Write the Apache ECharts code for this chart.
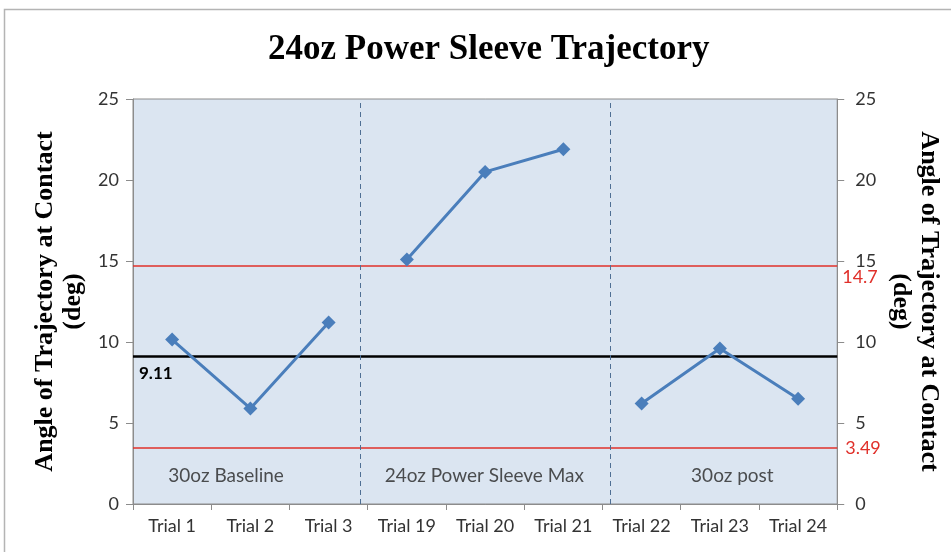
<!DOCTYPE html>
<html>
<head>
  <meta charset="utf-8">
  <title>24oz Power Sleeve Trajectory</title>
  <script src="https://cdn.jsdelivr.net/npm/echarts@6/dist/echarts.min.js"></script>
  <style>
    html, body { margin: 0; padding: 0; background: #fff; }
  </style>
</head>
<body>
  <div id="chart" style="width: 951px; height: 552px;"></div>
  <script>
    // data
    const trials = ['Trial 1', 'Trial 2', 'Trial 3', 'Trial 19', 'Trial 20', 'Trial 21', 'Trial 22', 'Trial 23', 'Trial 24'];
    const angles = [10.15, 5.9, 11.2, 15.1, 20.5, 21.9, 6.2, 9.6, 6.5];
    const phaseOf = [0, 0, 0, 1, 1, 1, 2, 2, 2];
    const phaseNames = ['30oz Baseline', '24oz Power Sleeve Max', '30oz post'];
    const phaseLabelPos = [[1.19, 1.75], [4.49, 1.75], [7.66, 1.75]];
    const dividers = [2.9, 6.1];
    const meanLine = 9.11;
    const upperLimit = 14.7;
    const lowerLimit = 3.49;

    const blue = '#4a7ebb';
    const red = '#e0302a';
    const labelFont = 'Lato, "Open Sans", sans-serif';
    const serif = '"Liberation Serif", "DejaVu Serif", serif';

    // one line per phase, so the phases are not joined
    let phaseSeries = phaseNames.map(function (name, p) {
      return {
        name: name,
        type: 'line',
        data: angles.map(function (v, i) { return phaseOf[i] === p ? v : '-'; }),
        symbol: 'diamond',
        symbolSize: 14,
        lineStyle: { color: blue, width: 3 },
        itemStyle: { color: blue },
        z: 5
      };
    });

    let axisName = {
      fontFamily: serif, fontSize: 26, fontWeight: 'bold', color: '#000', lineHeight: 28
    };

    let myChart = echarts.init(document.getElementById('chart'));
    let option = {
      animation: false,
      backgroundColor: '#fff',
      title: {
        text: '24oz Power Sleeve Trajectory',
        left: 263,
        top: 27,
        textStyle: { fontFamily: serif, fontSize: 35, fontWeight: 'bold', color: '#000' }
      },
      graphic: [{
        type: 'rect',
        shape: { x: 4.5, y: 9.5, width: 1000, height: 600 },
        style: { fill: null, stroke: '#b4b4b4', lineWidth: 1.5 },
        silent: true
      }],
      grid: {
        left: 133, right: 111, top: 99, bottom: 48,
        show: true,
        backgroundColor: '#dbe5f1',
        borderColor: '#8c8c8c',
        borderWidth: 1
      },
      xAxis: [{
        type: 'category',
        data: trials,
        boundaryGap: true,
        axisLine: { lineStyle: { color: '#8c8c8c', width: 1 } },
        axisTick: { show: true, length: 6, lineStyle: { color: '#8c8c8c' } },
        axisLabel: { color: '#333', fontFamily: labelFont, fontSize: 18, margin: 13 },
        splitLine: { show: false }
      }, {
        type: 'value',
        min: 0, max: trials.length,
        show: false
      }],
      yAxis: [{
        type: 'value',
        min: 0, max: 25, interval: 5,
        position: 'left',
        name: 'Angle of Trajectory at Contact\n(deg)',
        nameLocation: 'middle',
        nameGap: 46,
        nameTextStyle: axisName,
        axisLine: { show: true, lineStyle: { color: '#8c8c8c' } },
        axisTick: { show: true, length: 7, lineStyle: { color: '#8c8c8c' } },
        axisLabel: { color: '#333', fontFamily: labelFont, fontSize: 18, margin: 14 },
        splitLine: { show: false }
      }, {
        type: 'value',
        min: 0, max: 25, interval: 5,
        position: 'right',
        name: 'Angle of Trajectory at Contact\n(deg)',
        nameLocation: 'middle',
        nameRotate: -90,
        nameGap: 46,
        nameTextStyle: axisName,
        axisLine: { show: true, lineStyle: { color: '#8c8c8c' } },
        axisTick: { show: true, length: 7, lineStyle: { color: '#8c8c8c' } },
        axisLabel: { color: '#333', fontFamily: labelFont, fontSize: 18, margin: 18 },
        splitLine: { show: false }
      }],
      series: phaseSeries.concat([{
        // reference lines
        type: 'line',
        data: [],
        symbol: 'none',
        markLine: {
          silent: true,
          symbol: 'none',
          data: [{
            yAxis: meanLine,
            lineStyle: { color: '#000', width: 2.5, type: 'solid' },
            label: {
              show: true, position: 'insideStartBottom', formatter: String(meanLine),
              color: '#000', fontWeight: 'bold', fontFamily: labelFont, fontSize: 17, distance: [6, 9]
            }
          }, {
            yAxis: upperLimit,
            lineStyle: { color: red, width: 1.5, type: 'solid', opacity: 1 },
            label: {
              show: true, position: 'end', formatter: String(upperLimit),
              color: red, fontFamily: labelFont, fontSize: 18, distance: 5,
              backgroundColor: '#fff', offset: [0, 11]
            }
          }, {
            yAxis: lowerLimit,
            lineStyle: { color: red, width: 1.5, type: 'solid', opacity: 1 },
            label: {
              show: true, position: 'end', formatter: String(lowerLimit),
              color: red, fontFamily: labelFont, fontSize: 18, distance: 8,
              backgroundColor: '#fff', offset: [0, 1]
            }
          }]
        },
        z: 3
      }, {
        // phase dividers and phase names, on the hidden value axis
        type: 'scatter',
        xAxisIndex: 1,
        yAxisIndex: 0,
        symbolSize: 0,
        data: phaseNames.map(function (n, i) { return { value: phaseLabelPos[i], name: n }; }),
        label: {
          show: true, position: 'inside', formatter: '{b}',
          color: '#262626', fontFamily: labelFont, fontSize: 19
        },
        markLine: {
          silent: true,
          symbol: 'none',
          label: { show: false },
          lineStyle: { color: '#4f6f94', width: 1, type: [5, 4] },
          data: dividers.map(function (d) { return { xAxis: d }; })
        },
        z: 2
      }])
    };
    myChart.setOption(option);
  </script>
</body>
</html>
